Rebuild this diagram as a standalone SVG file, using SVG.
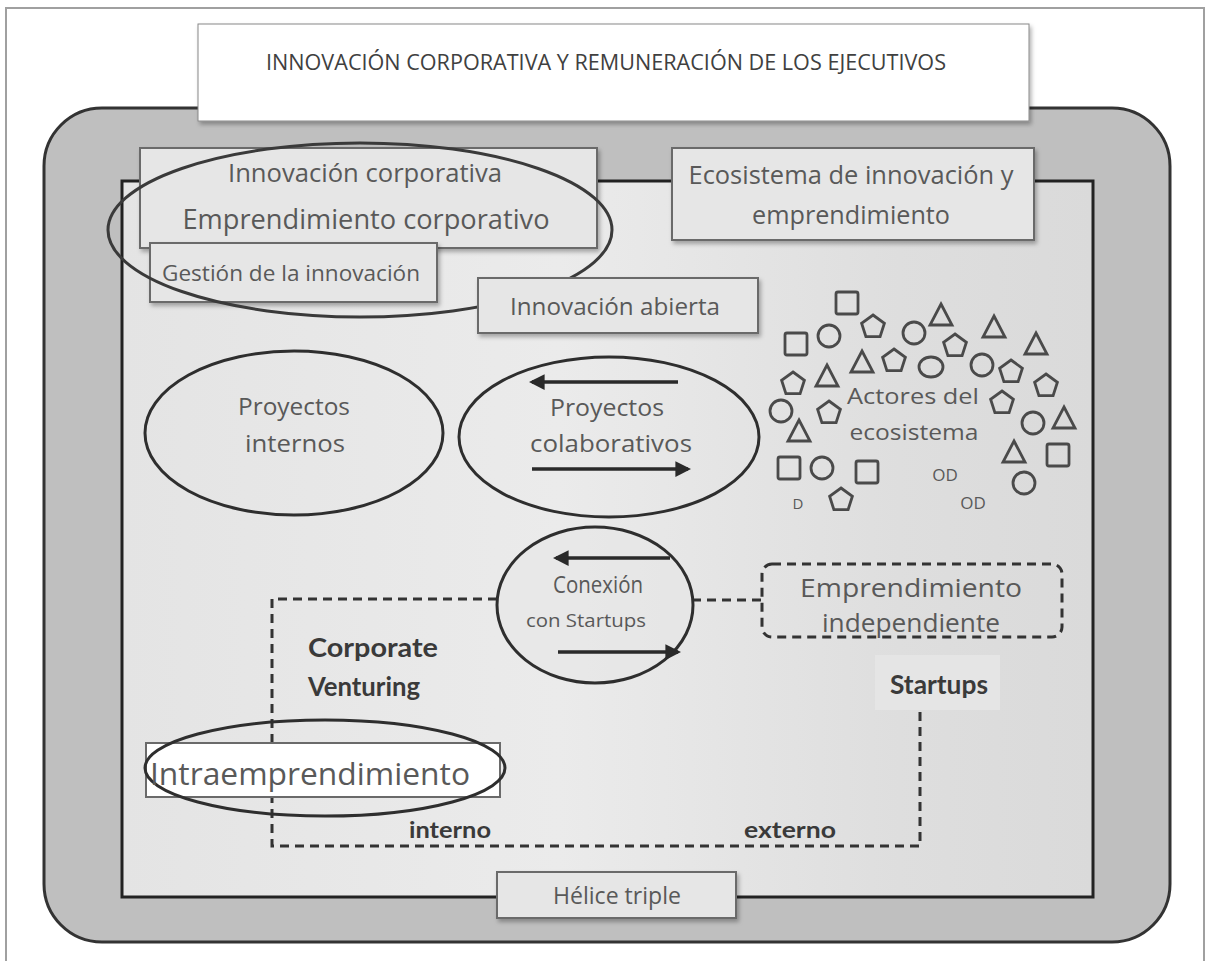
<svg xmlns="http://www.w3.org/2000/svg" width="1206" height="961" viewBox="0 0 1206 961">
<style>
.t{font-family:"Open Sans","Liberation Sans",sans-serif;fill:#595959;text-anchor:middle}
.b{font-family:Lato,"Open Sans","Liberation Sans",sans-serif;font-weight:bold;fill:#3a3a3a;text-anchor:middle}
.box{fill:#e6e6e6;stroke:#6a6a6a;stroke-width:2}
.ell{fill:none;stroke:#2e2e2e;stroke-width:3}
.dash{fill:none;stroke:#333;stroke-width:3;stroke-dasharray:9 6}
.arr{stroke:#2a2a2a;stroke-width:3.5;fill:none}
.sh{fill:none;stroke:#4a4a4a;stroke-width:2.8}
</style>
<defs>
<marker id="ah" viewBox="0 0 10 10" refX="8" refY="5" markerWidth="4.5" markerHeight="4.5" orient="auto" markerUnits="strokeWidth">
<path d="M0,0 L10,5 L0,10 z" fill="#2a2a2a"/>
</marker>
<filter id="ds" x="-10%" y="-20%" width="120%" height="150%">
<feDropShadow dx="2" dy="3" stdDeviation="2" flood-color="#000" flood-opacity="0.3"/>
</filter>
<linearGradient id="ig" x1="0" y1="0" x2="1" y2="0">
<stop offset="0" stop-color="#e4e4e4"/>
<stop offset="0.45" stop-color="#ebebeb"/>
<stop offset="0.8" stop-color="#dedede"/>
<stop offset="1" stop-color="#dadada"/>
</linearGradient>
<polygon id="pent" points="0,-12 11.4,-3.7 7.1,9.7 -7.1,9.7 -11.4,-3.7" class="sh"/>
<polygon id="tri" points="0,-12 11,9 -11,9" class="sh"/>
<rect id="sq" x="-11" y="-11" width="22" height="22" rx="2" class="sh"/>
<circle id="ci" r="11" class="sh"/>
</defs>

<rect x="0" y="0" width="1206" height="961" fill="#ffffff"/>
<path d="M6,961 V8 H1204 V961" fill="none" stroke="#a0a0a0" stroke-width="2"/>

<g id="frame">
<rect x="44" y="108" width="1126" height="834" rx="58" fill="#bfbfbf" stroke="#333" stroke-width="3"/>
<rect x="122" y="181" width="971" height="716" fill="url(#ig)" stroke="#222" stroke-width="3"/>
</g>

<g id="title">
<rect x="198" y="24" width="831" height="97" fill="#ffffff" stroke="#888" stroke-width="1" filter="url(#ds)"/>
<text x="606" y="70" class="t" style="fill:#404040;font-size:21px" textLength="680" lengthAdjust="spacingAndGlyphs">INNOVACIÓN CORPORATIVA Y REMUNERACIÓN DE LOS EJECUTIVOS</text>
</g>

<g id="innovacion-corporativa">
<rect x="140" y="148" width="457" height="100" class="box" filter="url(#ds)"/>
<text x="365" y="182" class="t" style="font-size:25px" textLength="274" lengthAdjust="spacingAndGlyphs">Innovación corporativa</text>
<text x="366" y="229" class="t" style="font-size:28px" textLength="367" lengthAdjust="spacingAndGlyphs">Emprendimiento corporativo</text>
</g>

<g id="gestion">
<rect x="150" y="243" width="287" height="59" class="box" filter="url(#ds)"/>
<text x="162" y="281" class="t" style="font-size:22px;text-anchor:start" textLength="258" lengthAdjust="spacingAndGlyphs">Gestión de la innovación</text>
</g>

<g id="ellipse-corporativa">
<ellipse cx="360" cy="230" rx="252" ry="87" class="ell" style="stroke:#3a3a3a"/>
</g>

<g id="ecosistema">
<rect x="672" y="148" width="362" height="92" class="box" filter="url(#ds)"/>
<text x="851" y="184" class="t" style="font-size:25px" textLength="325" lengthAdjust="spacingAndGlyphs">Ecosistema de innovación y</text>
<text x="851" y="224" class="t" style="font-size:25px" textLength="198" lengthAdjust="spacingAndGlyphs">emprendimiento</text>
</g>

<g id="innovacion-abierta">
<rect x="478" y="278" width="280" height="55" class="box" filter="url(#ds)"/>
<text x="615" y="315" class="t" style="font-size:24px" textLength="210" lengthAdjust="spacingAndGlyphs">Innovación abierta</text>
</g>

<g id="proyectos-internos">
<ellipse cx="294" cy="433" rx="149" ry="82" class="ell"/>
<text x="294" y="415" class="t" style="font-size:23px" textLength="112" lengthAdjust="spacingAndGlyphs">Proyectos</text>
<text x="295" y="452" class="t" style="font-size:24px" textLength="100" lengthAdjust="spacingAndGlyphs">internos</text>
</g>

<g id="proyectos-colaborativos">
<ellipse cx="609" cy="437" rx="150" ry="80" class="ell"/>
<text x="607" y="416" class="t" style="font-size:23px" textLength="114" lengthAdjust="spacingAndGlyphs">Proyectos</text>
<text x="611" y="452" class="t" style="font-size:24px" textLength="162" lengthAdjust="spacingAndGlyphs">colaborativos</text>
</g>

<g id="actores">
<use href="#sq" x="847" y="303"/>
<use href="#sq" x="796" y="344"/>
<use href="#sq" x="789" y="468"/>
<use href="#sq" x="867" y="472"/>
<use href="#sq" x="1058" y="455"/>
<use href="#ci" x="829" y="336"/>
<use href="#ci" x="914" y="333"/>
<ellipse cx="931" cy="367" rx="12" ry="10" class="sh"/>
<use href="#ci" x="982" y="365"/>
<use href="#ci" x="781" y="411"/>
<use href="#ci" x="822" y="468"/>
<use href="#ci" x="1033" y="423"/>
<use href="#ci" x="1024" y="483"/>
<use href="#pent" x="873" y="327"/>
<use href="#pent" x="955" y="346"/>
<use href="#pent" x="894" y="361"/>
<use href="#pent" x="793" y="384"/>
<use href="#pent" x="1011" y="372"/>
<use href="#pent" x="1046" y="386"/>
<use href="#pent" x="829" y="413"/>
<use href="#pent" x="1002" y="403"/>
<use href="#pent" x="841" y="500"/>
<use href="#tri" x="941" y="316"/>
<use href="#tri" x="994" y="328"/>
<use href="#tri" x="1036" y="345"/>
<use href="#tri" x="862" y="363"/>
<use href="#tri" x="827" y="377"/>
<use href="#tri" x="799" y="432"/>
<use href="#tri" x="1064" y="419"/>
<use href="#tri" x="1014" y="453"/>
<text x="913" y="404" class="t" style="font-size:22px" textLength="132" lengthAdjust="spacingAndGlyphs">Actores del</text>
<text x="914" y="440" class="t" style="font-size:22px" textLength="129" lengthAdjust="spacingAndGlyphs">ecosistema</text>
<text x="945" y="481" class="t" style="font-size:17px">OD</text>
<text x="973" y="509" class="t" style="font-size:17px">OD</text>
<text x="798" y="509" class="t" style="font-size:15px">D</text>
</g>

<g id="corporate-venturing">
<text x="308" y="657" class="b" style="font-size:27px;text-anchor:start" textLength="130" lengthAdjust="spacingAndGlyphs">Corporate</text>
<text x="308" y="696" class="b" style="font-size:27px;text-anchor:start" textLength="112" lengthAdjust="spacingAndGlyphs">Venturing</text>
<text x="450" y="838" class="b" style="font-size:22px" textLength="82" lengthAdjust="spacingAndGlyphs">interno</text>
<text x="790" y="838" class="b" style="font-size:22px" textLength="92" lengthAdjust="spacingAndGlyphs">externo</text>
</g>

<g id="startups">
<rect x="875" y="655" width="125" height="55" fill="#e5e5e5"/>
<text x="939" y="694" class="b" style="font-size:27px" textLength="98" lengthAdjust="spacingAndGlyphs">Startups</text>
</g>

<g id="emprendimiento-independiente">
<rect x="762" y="564" width="300" height="73" rx="10" class="dash"/>
<text x="911" y="597" class="t" style="font-size:25px" textLength="222" lengthAdjust="spacingAndGlyphs">Emprendimiento</text>
<text x="911" y="632" class="t" style="font-size:25px" textLength="178" lengthAdjust="spacingAndGlyphs">independiente</text>
</g>

<g id="connectors">
<path d="M497,599 H272 V846 H920 V712" class="dash"/>
<path d="M692,600 H762" class="dash"/>
<line x1="678" y1="382" x2="532" y2="382" class="arr" marker-end="url(#ah)"/>
<line x1="532" y1="469" x2="688" y2="469" class="arr" marker-end="url(#ah)"/>
</g>

<g id="conexion">
<ellipse cx="595" cy="605" rx="98" ry="78" class="ell" style="fill:#e6e6e6;fill-opacity:0.5"/>
<text x="598" y="593" class="t" style="font-size:23px" textLength="90" lengthAdjust="spacingAndGlyphs">Conexión</text>
<text x="586" y="627" class="t" style="font-size:18px" textLength="120" lengthAdjust="spacingAndGlyphs">con Startups</text>
<line x1="670" y1="558" x2="556" y2="558" class="arr" marker-end="url(#ah)"/>
<line x1="558" y1="652" x2="678" y2="652" class="arr" marker-end="url(#ah)"/>
</g>

<g id="intraemprendimiento">
<rect x="146" y="743" width="354" height="54" fill="#ffffff" stroke="#6a6a6a" stroke-width="2"/>
<ellipse cx="325" cy="768" rx="180" ry="48" class="ell"/>
<text x="150" y="785" class="t" style="font-size:31px;text-anchor:start" textLength="320" lengthAdjust="spacingAndGlyphs">Intraemprendimiento</text>
</g>

<g id="helice">
<rect x="497" y="872" width="239" height="46" class="box" filter="url(#ds)"/>
<text x="617" y="904" class="t" style="font-size:24px" textLength="128" lengthAdjust="spacingAndGlyphs">Hélice triple</text>
</g>
</svg>
